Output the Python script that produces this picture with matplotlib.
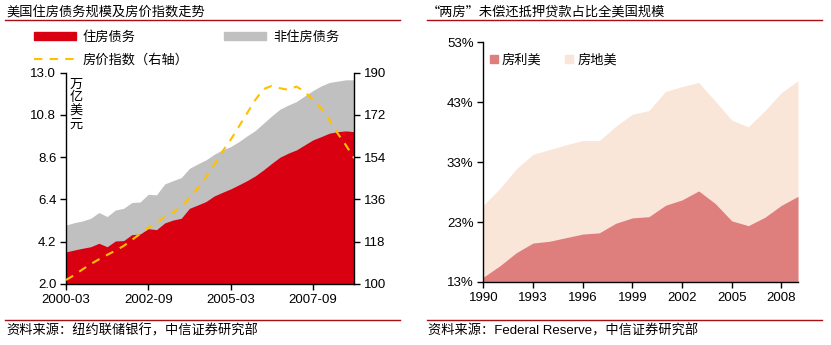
import matplotlib
matplotlib.use("Agg")
import matplotlib.pyplot as plt
from matplotlib.lines import Line2D
from matplotlib.patches import Patch
import numpy as np

plt.rcParams['font.family'] = ['Liberation Sans', 'Noto Sans CJK SC']
plt.rcParams['axes.unicode_minus'] = False

# ---- Left chart data (quarterly 2000Q1 - 2008Q4) ----
quarters = [f"{y}-{m:02d}" for y in range(2000, 2009) for m in (3, 6, 9, 12)]
residential_debt = [3.67, 3.77, 3.86, 3.94, 4.12, 3.94, 4.24, 4.26, 4.57, 4.60,
                    4.88, 4.83, 5.18, 5.33, 5.42, 5.94, 6.11, 6.29, 6.58, 6.77,
                    6.95, 7.16, 7.38, 7.63, 7.94, 8.28, 8.60, 8.81, 8.98, 9.24,
                    9.50, 9.67, 9.85, 9.93, 9.97, 9.93]
total_debt = [5.07, 5.19, 5.28, 5.42, 5.72, 5.51, 5.85, 5.94, 6.24, 6.27,
              6.67, 6.64, 7.21, 7.38, 7.54, 8.02, 8.25, 8.46, 8.75, 8.98,
              9.15, 9.41, 9.71, 9.99, 10.37, 10.75, 11.10, 11.31, 11.50, 11.79,
              12.07, 12.31, 12.49, 12.56, 12.63, 12.63]
house_price_index = [101.7, 103.8, 106.2, 108.5, 110.5, 112.4, 114.2, 116.2, 118.8, 121.3,
                     124.0, 125.9, 128.7, 130.4, 133.0, 136.5, 140.8, 145.5, 150.7, 156.4,
                     161.4, 167.0, 172.7, 178.4, 183.0, 184.4, 183.4, 182.7, 184.1, 182.0,
                     178.4, 174.9, 169.9, 164.2, 159.2, 153.6]
left_yticks = [2.0, 4.2, 6.4, 8.6, 10.8, 13.0]
right_yticks = [100, 118, 136, 154, 172, 190]
left_xtick_labels = ["2000-03", "2002-09", "2005-03", "2007-09"]

# ---- Right chart data (annual 1990 - 2009), % of US total ----
years = list(range(1990, 2010))
fannie_share = [13.8, 15.7, 17.9, 19.5, 19.8, 20.4, 21.0, 21.2, 22.8, 23.7,
                23.9, 25.8, 26.7, 28.2, 26.1, 23.2, 22.4, 23.8, 25.8, 27.3]
freddie_share = [12.0, 12.9, 14.0, 14.8, 15.3, 15.5, 15.6, 15.4, 16.2, 17.3,
                 17.7, 19.0, 18.9, 18.1, 17.1, 16.8, 16.5, 17.8, 18.8, 19.3]
pct_ticks = [13, 23, 33, 43, 53]
year_ticks = [1990, 1993, 1996, 1999, 2002, 2005, 2008]

RED = "#D90011"
GREY = "#C0C0C0"
GOLD = "#FFC000"
FANNIE = "#DE7F7E"
FREDDIE = "#FAE5D9"
RULE = "#A50F15"

fig = plt.figure(figsize=(8.31, 3.45), dpi=100)
W, H = 831, 345

def fx(px):
    return px / W

def fy(py):
    return 1 - py / H

FS = 9.5
CJK = ['Noto Sans CJK SC', 'Liberation Sans']

# ---------- Left chart ----------
axL = fig.add_axes([fx(66), fy(284), fx(354) - fx(66), fy(72.7) - fy(284)])
x = np.arange(len(quarters))
axL.fill_between(x, 2.0, total_debt, color=GREY, linewidth=0, zorder=1)
axL.fill_between(x, 2.0, residential_debt, color=RED, linewidth=0, zorder=2)
axL.set_xlim(0, len(quarters) - 1)
axL.set_ylim(2.0, 13.0)
axL.set_yticks(left_yticks)
axL.set_yticklabels([f"{v:.1f}" for v in left_yticks])
xt = [quarters.index(l) for l in left_xtick_labels]
axL.set_xticks(xt)
axL.set_xticklabels(left_xtick_labels)
axL.spines['top'].set_visible(False)
axL.spines['right'].set_visible(False)
for s in ('left', 'bottom'):
    axL.spines[s].set_linewidth(1.0)
axL.tick_params(axis='both', direction='out', length=4, width=1, labelsize=FS, pad=3)

axR = axL.twinx()
axR.plot(x, house_price_index, color=GOLD, linestyle=(0, (4, 3.5)), linewidth=1.5, zorder=5)
axR.set_ylim(100, 190)
axR.set_yticks(right_yticks)
axR.set_yticklabels([str(v) for v in right_yticks])
axR.spines['top'].set_visible(False)
axR.spines['left'].set_visible(False)
axR.spines['bottom'].set_visible(False)
axR.spines['right'].set_linewidth(1.0)
axR.tick_params(axis='y', direction='out', length=4, width=1, labelsize=FS, pad=3)
axL.set_zorder(1)
axR.set_zorder(2)
axR.patch.set_visible(False)

fig.text(fx(76), fy(78), "万\n亿\n美\n元", ha='center', va='top', fontsize=FS,
         linespacing=1.02, family=CJK)

# Legend (left)
fig.legend(handles=[Patch(color=RED, label="住房债务")],
           loc='center left', bbox_to_anchor=(fx(34), fy(37)),
           frameon=False, prop={'size': FS, 'family': CJK}, handlelength=3.2, handleheight=0.55,
           handletextpad=0.5, borderaxespad=0, borderpad=0)
fig.legend(handles=[Patch(color=GREY, label="非住房债务")],
           loc='center left', bbox_to_anchor=(fx(224), fy(37)),
           frameon=False, prop={'size': FS, 'family': CJK}, handlelength=3.2, handleheight=0.55,
           handletextpad=0.5, borderaxespad=0, borderpad=0)
fig.legend(handles=[Line2D([], [], color=GOLD, linestyle=(0, (4, 3.5)), linewidth=1.5,
                           label="房价指数（右轴）")],
           loc='center left', bbox_to_anchor=(fx(34), fy(60)),
           frameon=False, prop={'size': FS, 'family': CJK}, handlelength=3.2,
           handletextpad=0.5, borderaxespad=0, borderpad=0)

# ---------- Right chart ----------
ax2 = fig.add_axes([fx(483.3), fy(282), fx(798) - fx(483.3), fy(42.3) - fy(282)])
fannie = np.array(fannie_share)
total = fannie + np.array(freddie_share)
ax2.fill_between(years, 13, total, color=FREDDIE, linewidth=0, label="房地美", zorder=1)
ax2.fill_between(years, 13, fannie, color=FANNIE, linewidth=0, label="房利美", zorder=2)
ax2.set_xlim(1990, 2009)
ax2.set_ylim(13, 53)
ax2.set_yticks(pct_ticks)
ax2.set_yticklabels([f"{v}%" for v in pct_ticks])
ax2.set_xticks(year_ticks)
ax2.set_xticklabels([str(v) for v in year_ticks])
ax2.spines['top'].set_visible(False)
ax2.spines['right'].set_visible(False)
for s in ('left', 'bottom'):
    ax2.spines[s].set_linewidth(1.0)
ax2.tick_params(axis='both', direction='out', length=4, width=1, labelsize=FS, pad=3)
ax2.legend(handles=[Patch(color=FANNIE, label="房利美"), Patch(color=FREDDIE, label="房地美")],
           loc='center left', bbox_to_anchor=(fx(501) - fx(483.3), (fy(60) - fy(282)) / (fy(42.3) - fy(282))),
           bbox_transform=ax2.transAxes, ncol=2, frameon=False, prop={'size': FS, 'family': CJK},
           handlelength=0.6, handleheight=0.6, handletextpad=0.3, columnspacing=1.8,
           borderaxespad=0, borderpad=0)

# ---------- Titles, rules, sources ----------
fig.text(fx(6), fy(12), "美国住房债务规模及房价指数走势", ha='left', va='center', fontsize=FS, family=CJK)
fig.text(fx(427), fy(12), "“两房”未偿还抵押贷款占比全美国规模", ha='left', va='center', fontsize=FS, family=CJK)
for (a, b) in [(5, 400), (427, 822)]:
    fig.add_artist(Line2D([fx(a), fx(b)], [fy(19.5), fy(19.5)], color=RULE, linewidth=1.0))
    fig.add_artist(Line2D([fx(a), fx(b)], [fy(319.5), fy(319.5)], color=RULE, linewidth=1.0))
fig.text(fx(6), fy(331), "资料来源：纽约联储银行，中信证券研究部", ha='left', va='center', fontsize=FS, family=CJK)
fig.text(fx(428), fy(331), "资料来源：Federal Reserve，中信证券研究部", ha='left', va='center', fontsize=FS)

fig.savefig("out.png", dpi=100)
